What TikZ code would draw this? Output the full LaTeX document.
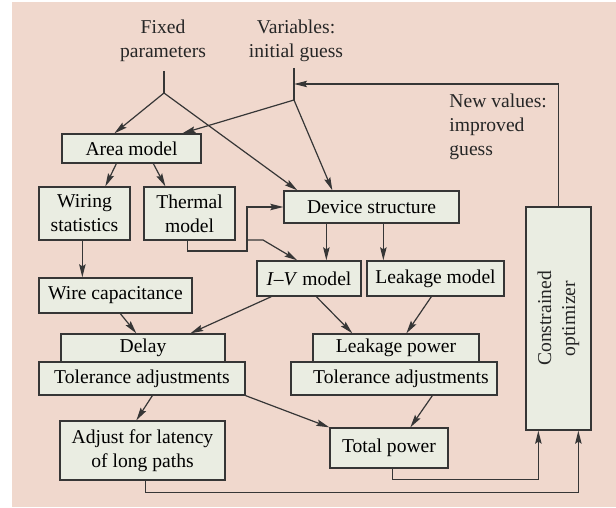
\documentclass[tikz,border=0pt]{standalone}
\usepackage{fontspec}
\setmainfont{Liberation Serif}
\usetikzlibrary{calc,arrows.meta}
\definecolor{bgpink}{HTML}{F0D8CD}
\definecolor{boxfill}{HTML}{EAEDE2}
\definecolor{linegray}{HTML}{363636}
\begin{document}
\begin{tikzpicture}[x=0.5pt,y=-0.5pt,
  font=\fontsize{9.8pt}{12pt}\selectfont,
  bx/.style={draw=linegray, fill=boxfill, line width=0.65pt, inner sep=0pt, align=center, anchor=center},
  lbl/.style={inner sep=0pt, align=center, text=black!85},
  conn/.style={draw=linegray, line width=0.6pt},
  arr/.style={conn, -{Stealth[length=6.5pt,width=3.2pt,inset=1pt]}}]
\useasboundingbox (0,0) rectangle (616,508);
\fill[bgpink] (12,2) rectangle (616,507);

% texts
\node[lbl] (fixed) at (163,41) {Fixed\\parameters};
\node[lbl] (vars) at (296,41) {Variables:\\initial guess};
\node[lbl, align=left, anchor=west] (newval) at (449,127) {New values:\\improved\\guess};

% boxes
\node[bx, minimum width=69.5pt, minimum height=14.5pt] (area) at (131.5,148.5) {Area model};
\node[bx, minimum width=45.5pt, minimum height=26.5pt] (wiring) at (84.5,213.5) {Wiring\\statistics};
\node[bx, minimum width=45.5pt, minimum height=26.5pt] (thermal) at (189.5,213.5) {Thermal\\model};
\node[bx, minimum width=87.5pt, minimum height=16pt] (device) at (371.5,207) {Device structure};
\node[bx, minimum width=32.5pt, minimum height=111.5pt] (opt) at (558.5,318.5) {};
\node[lbl, rotate=90] (opttext) at (opt.center) {Constrained\\optimizer};
\node[bx, minimum width=52pt, minimum height=17.5pt] (iv) at (309,278.5) {\textit{I}--\textit{V} model};
\node[bx, minimum width=68.5pt, minimum height=17.5pt] (leakm) at (435.5,278.5) {Leakage model};
\node[bx, minimum width=76.5pt, minimum height=17.5pt] (wirecap) at (115.5,295.5) {Wire capacitance};
\node[bx, minimum width=82pt, minimum height=14pt] (delay) at (143,348) {Delay};
\node[bx, minimum width=103pt, minimum height=16.5pt] (tolL) at (142,378.5) {Tolerance adjustments};
\node[bx, minimum width=83pt, minimum height=14pt] (leakp) at (396,348) {Leakage power};
\node[bx, minimum width=103pt, minimum height=16.5pt] (tolR) at (394,378.5) {\hspace{7pt}Tolerance adjustments};
\node[bx, minimum width=82.5pt, minimum height=29.5pt] (adjust) at (142.5,450.5) {Adjust for latency\\of long paths};
\node[bx, minimum width=59pt, minimum height=20pt] (total) at (389,448) {Total power};

% coordinates
\coordinate (Ftop) at (164,71);
\coordinate (F) at (164,93);
\coordinate (Vtop) at (294,68);
\coordinate (Vfb) at (294,84);
\coordinate (V) at (294,100);
\coordinate (tb) at (247,251);
\coordinate (tj) at (247,240);
\coordinate (tk) at (263,240);

% stems
\draw[conn] (Ftop) -- (F);
\draw[conn] (Vtop) -- (V);
\draw[arr] (opt.north) |- (Vfb);

% top arrows
\draw[arr] (F) -- ($(area.north west)+(53,0)$);
\draw[arr] (V) -- ($(area.north west)+(121,0)$);
\draw[arr] (F) -- ($(device.north west)+(14,0)$);
\draw[arr] (V) -- ($(device.north west)+(49,0)$);

% area outputs
\draw[arr] ($(area.south west)+(55,0)$) -- ($(wiring.north west)+(67,0)$);
\draw[arr] ($(area.south west)+(92,0)$) -- ($(thermal.north west)+(22,0)$);
\draw[arr] ($(wiring.south west)+(44,0)$) -- ($(wirecap.north west)+(44,0)$);

% thermal model paths
\draw[arr] ($(thermal.south west)+(44,0)$) |- (tb) |- (device.west);
\draw[arr] (tj) -- (tk) -- ($(iv.north west)+(41,0)$);

% device structure outputs
\coordinate (d1) at ($(device.south west)+(43,0)$);
\coordinate (d2) at ($(device.south west)+(100,0)$);
\draw[arr] (d1) -- (d1 |- iv.north);
\draw[arr] (d2) -- (d2 |- leakm.north);

% middle arrows
\draw[arr] ($(wirecap.south west)+(82,0)$) -- ($(delay.north west)+(76,0)$);
\draw[arr] ($(iv.south west)+(15,0)$) -- ($(delay.north west)+(130,0)$);
\draw[arr] ($(iv.south west)+(60,0)$) -- ($(leakp.north west)+(40,0)$);
\draw[arr] ($(leakm.south west)+(65,0)$) -- ($(leakp.north west)+(94,0)$);

% lower arrows
\draw[arr] ($(tolL.south west)+(114,0)$) -- ($(adjust.north west)+(77,0)$);
\draw[arr] (tolL.south east) -- (total.north west);
\draw[arr] ($(tolR.south west)+(142,0)$) -- ($(total.north west)+(81,0)$);

% to optimizer
\draw[arr] ($(total.south west)+(63,0)$) -- ++(0,11) -| ($(opt.south west)+(13,0)$);
\draw[arr] ($(adjust.south west)+(86,0)$) -- ++(0,12) -| ($(opt.south west)+(53,0)$);
\end{tikzpicture}
\end{document}
